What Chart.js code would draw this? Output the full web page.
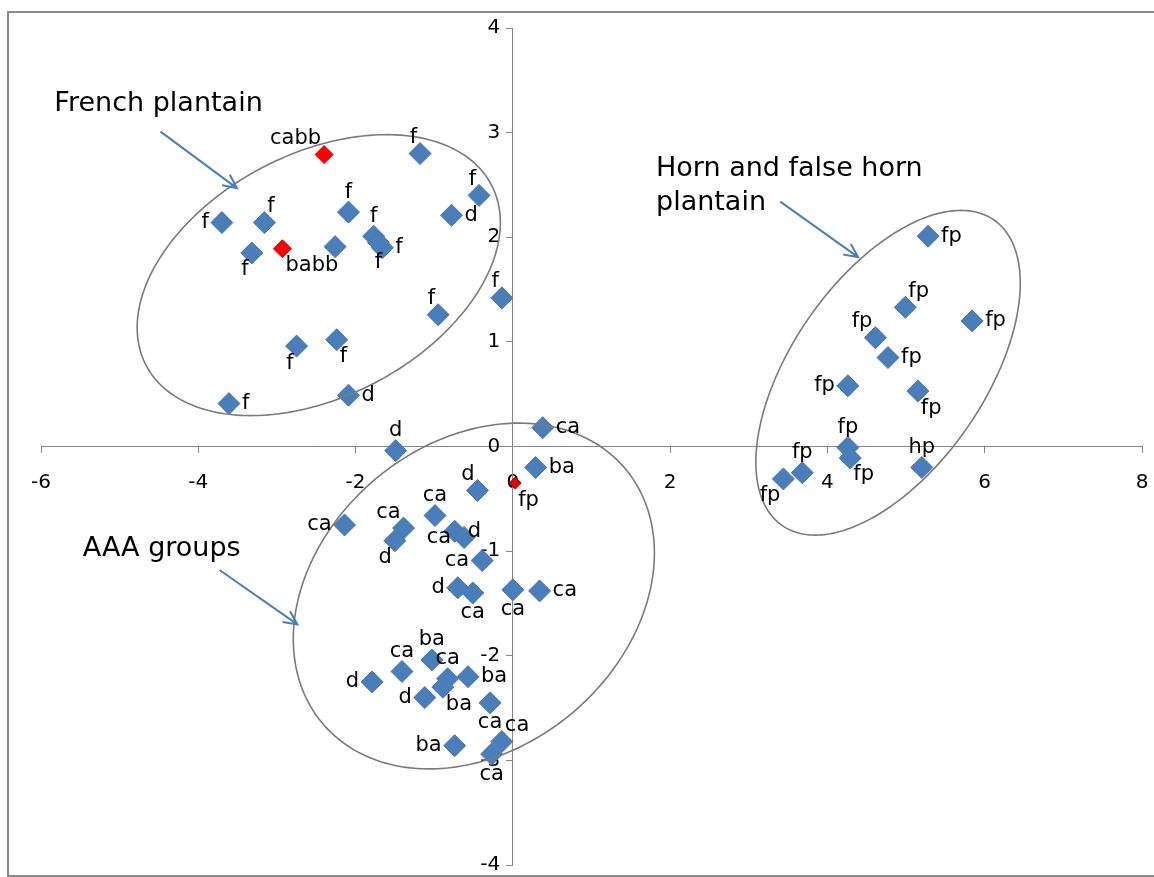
<!DOCTYPE html>
<html><head><meta charset="utf-8">
<script src="https://cdn.jsdelivr.net/npm/chart.js@4.4.0/dist/chart.umd.min.js"></script>
<style>html,body{margin:0;padding:0;background:#fff;overflow:hidden}#wrap{width:1154px;height:877px;position:relative}</style>
</head><body><div id="wrap"><canvas id="c"></canvas></div>
<script>
// ---- axis ticks ----
const xTicks = [-6, -4, -2, 0, 2, 4, 6, 8];
const yTicks = [-4, -3, -2, -1, 0, 1, 2, 3, 4];

// ---- blue accessions ----
const blueLabels = ['f','f','d','f','f','f','f','f','f','f','','f','f','f','f','f','d','d',
  'ca','ba','d','ca','ca','d','ca','d','ca','ca','d','ca','ca','ca','ba','ca','d','ca','ba','ba','d','ca','ba','ca','ca',
  'fp','fp','fp','fp','fp','fp','fp','fp','fp','fp','fp','hp'];
const blueX = [-1.18,-0.43,-0.78,-3.70,-3.16,-2.09,-1.77,-1.66,-1.71,-3.32,-2.26,-0.14,-0.95,-2.75,-2.24,-3.61,-2.09,-1.49,
  0.38,0.29,-0.45,-2.14,-1.39,-1.50,-0.99,-0.74,-0.62,-0.39,-0.70,-0.51,0.00,0.34,-1.03,-1.41,-1.79,-0.83,-0.89,-0.57,-1.12,-0.29,-0.74,-0.14,-0.27,
  5.28,4.99,5.84,4.61,4.77,4.26,5.15,4.26,4.29,3.68,3.44,5.20];
const blueY = [2.80,2.40,2.21,2.14,2.14,2.24,2.01,1.90,1.95,1.85,1.91,1.42,1.26,0.96,1.02,0.41,0.49,-0.04,
  0.18,-0.20,-0.42,-0.75,-0.78,-0.90,-0.66,-0.81,-0.87,-1.09,-1.35,-1.40,-1.37,-1.38,-2.04,-2.15,-2.25,-2.22,-2.30,-2.20,-2.40,-2.45,-2.86,-2.82,-2.94,
  2.01,1.33,1.20,1.04,0.85,0.58,0.53,-0.01,-0.11,-0.25,-0.31,-0.20];
const bluePlace = ['tl','tl','r','l','tr','t','t','r','b','bl','','tl','tl','bl','br','r','r','t',
  'r','r','tl','l','tl','bl','t','r','l','l','l','b','b','r','t','t','l','t','br','r','l','b','l','tr','b',
  'r','tr','r','tl','r','l','br','t','br','t','bl','t'];

// ---- red accessions ----
const redLabels = ['cabb','babb'];
const redX = [-2.40,-2.93];
const redY = [2.79,1.89];
const redPlace = ['tl','br'];

const redSmallLabels = ['fp'];
const redSmallX = [0.03];
const redSmallY = [-0.35];
const redSmallPlace = ['br'];

// ---- group annotations (data units) ----
const groupNames = [['French plantain'], ['Horn and false horn','plantain'], ['AAA groups']];
const groupTextAt = [[-5.83,3.27],[1.82,2.65],[-5.47,-0.98]];
const groupArrows = [[-4.48,3.01,-3.51,2.47],[3.40,2.34,4.39,1.81],[-3.73,-1.18,-2.74,-1.70]];
const groupEllipses = [
  {c:[-2.468,1.638], a:[2.193,0.866], b:[-0.723,1.026]},
  {c:[4.771,0.705], a:[1.343,1.462], b:[-1.011,0.520]},
  {c:[-0.496,-1.429], a:[1.916,1.225], b:[-1.265,1.109]}
];

const FONT = '"DejaVu Sans", "Liberation Sans", sans-serif';
const pts = (xs, ys) => xs.map((x, i) => ({x, y: ys[i]}));

const frame = {
  id: 'frame',
  beforeDraw(chart) {
    const ctx = chart.ctx;
    ctx.save();
    ctx.fillStyle = '#fff';
    ctx.fillRect(0, 0, chart.width, chart.height);
    ctx.strokeStyle = '#8a8a8a';
    ctx.lineWidth = 2;
    ctx.strokeRect(8, 12, chart.width + 10, chart.height - 13);
    ctx.restore();
  }
};

const groups = {
  id: 'groups',
  afterDatasetsDraw(chart) {
    const ctx = chart.ctx, xs = chart.scales.x, ys = chart.scales.y;
    const P = (x, y) => [xs.getPixelForValue(x), ys.getPixelForValue(y)];
    ctx.save();
    // ellipses
    ctx.strokeStyle = '#7a7a7a';
    ctx.lineWidth = 1.6;
    groupEllipses.forEach(e => {
      ctx.beginPath();
      for (let k = 0; k <= 240; k++) {
        const t = k / 240 * Math.PI * 2;
        const [px, py] = P(e.c[0] + e.a[0]*Math.cos(t) + e.b[0]*Math.sin(t), e.c[1] + e.a[1]*Math.cos(t) + e.b[1]*Math.sin(t));
        k ? ctx.lineTo(px, py) : ctx.moveTo(px, py);
      }
      ctx.closePath();
      ctx.stroke();
    });
    // point labels
    ctx.fillStyle = '#000';
    ctx.font = '21px ' + FONT;
    ctx.textBaseline = 'middle';
    chart.data.datasets.forEach((ds, di) => {
      const meta = chart.getDatasetMeta(di);
      meta.data.forEach((el, i) => {
        const txt = ds.pointText[i];
        if (!txt) return;
        const pl = ds.place[i];
        let x = el.x, y = el.y, al = 'center';
        if (pl === 'r') { al = 'left'; x += 13; }
        else if (pl === 'l') { al = 'right'; x -= 13; }
        else if (pl === 't') { y -= 20; }
        else if (pl === 'b') { y += 20; }
        else if (pl === 'tr') { al = 'left'; x += 3; y -= 16; }
        else if (pl === 'tl') { al = 'right'; x -= 3; y -= 16; }
        else if (pl === 'br') { al = 'left'; x += 3; y += 17; }
        else if (pl === 'bl') { al = 'right'; x -= 3; y += 17; }
        ctx.textAlign = al;
        ctx.fillText(txt, x, y);
      });
    });
    // arrows
    ctx.strokeStyle = '#4A7EBB';
    ctx.lineWidth = 2;
    groupArrows.forEach(a => {
      const [x1, y1] = P(a[0], a[1]);
      const [x2, y2] = P(a[2], a[3]);
      const ang = Math.atan2(y2 - y1, x2 - x1);
      ctx.beginPath();
      ctx.moveTo(x1, y1); ctx.lineTo(x2, y2);
      ctx.moveTo(x2 - 15*Math.cos(ang - 0.45), y2 - 15*Math.sin(ang - 0.45));
      ctx.lineTo(x2, y2);
      ctx.lineTo(x2 - 15*Math.cos(ang + 0.45), y2 - 15*Math.sin(ang + 0.45));
      ctx.stroke();
    });
    // group names
    ctx.fillStyle = '#000';
    ctx.font = '27px ' + FONT;
    ctx.textAlign = 'left';
    groupNames.forEach((lines, g) => {
      const [x, y] = P(groupTextAt[g][0], groupTextAt[g][1]);
      lines.forEach((ln, j) => ctx.fillText(ln, x, y + j * 34));
    });
    ctx.restore();
  }
};

new Chart(document.getElementById('c'), {
  type: 'scatter',
  data: {
    datasets: [
      { label: 'accessions', data: pts(blueX, blueY), pointText: blueLabels, place: bluePlace,
        pointStyle: 'rectRot', pointRadius: 11, backgroundColor: '#4A7EBB', borderColor: '#4677B3', borderWidth: 1 },
      { label: 'AAB', data: pts(redX, redY), pointText: redLabels, place: redPlace,
        pointStyle: 'rectRot', pointRadius: 9, backgroundColor: '#FF0000', borderColor: '#D00000', borderWidth: 1 },
      { label: 'fp*', data: pts(redSmallX, redSmallY), pointText: redSmallLabels, place: redSmallPlace,
        pointStyle: 'rectRot', pointRadius: 6, backgroundColor: '#E00000', borderColor: '#A00000', borderWidth: 1 }
    ]
  },
  options: {
    responsive: true, maintainAspectRatio: false, animation: false,
    layout: { padding: { left: 41, right: 12, top: 28, bottom: 11 } },
    plugins: { legend: { display: false }, tooltip: { enabled: false } },
    scales: {
      x: {
        type: 'linear', min: -6, max: 8, position: { y: 0 },
        afterBuildTicks: s => { s.ticks = xTicks.map(v => ({ value: v })); },
        afterFit: s => { s.height = 0; s.paddingLeft = 0; s.paddingRight = 0; },
        grid: { display: true, drawOnChartArea: false, drawTicks: true, tickLength: 6, color: '#868686' },
        border: { display: true, color: '#868686', width: 1 },
        ticks: { font: { family: FONT, size: 20 }, color: '#000', padding: 18, maxRotation: 0, autoSkip: false }
      },
      y: {
        type: 'linear', min: -4, max: 4, position: { x: 0 },
        afterBuildTicks: s => { s.ticks = yTicks.map(v => ({ value: v })); },
        afterFit: s => { s.width = 0; s.paddingTop = 0; s.paddingBottom = 0; },
        grid: { display: true, drawOnChartArea: false, drawTicks: true, tickLength: 6, color: '#868686' },
        border: { display: true, color: '#868686', width: 1 },
        ticks: { font: { family: FONT, size: 20 }, color: '#000', autoSkip: false, callback: v => v + '  ' }
      }
    }
  },
  plugins: [frame, groups]
});
</script>
</body></html>
